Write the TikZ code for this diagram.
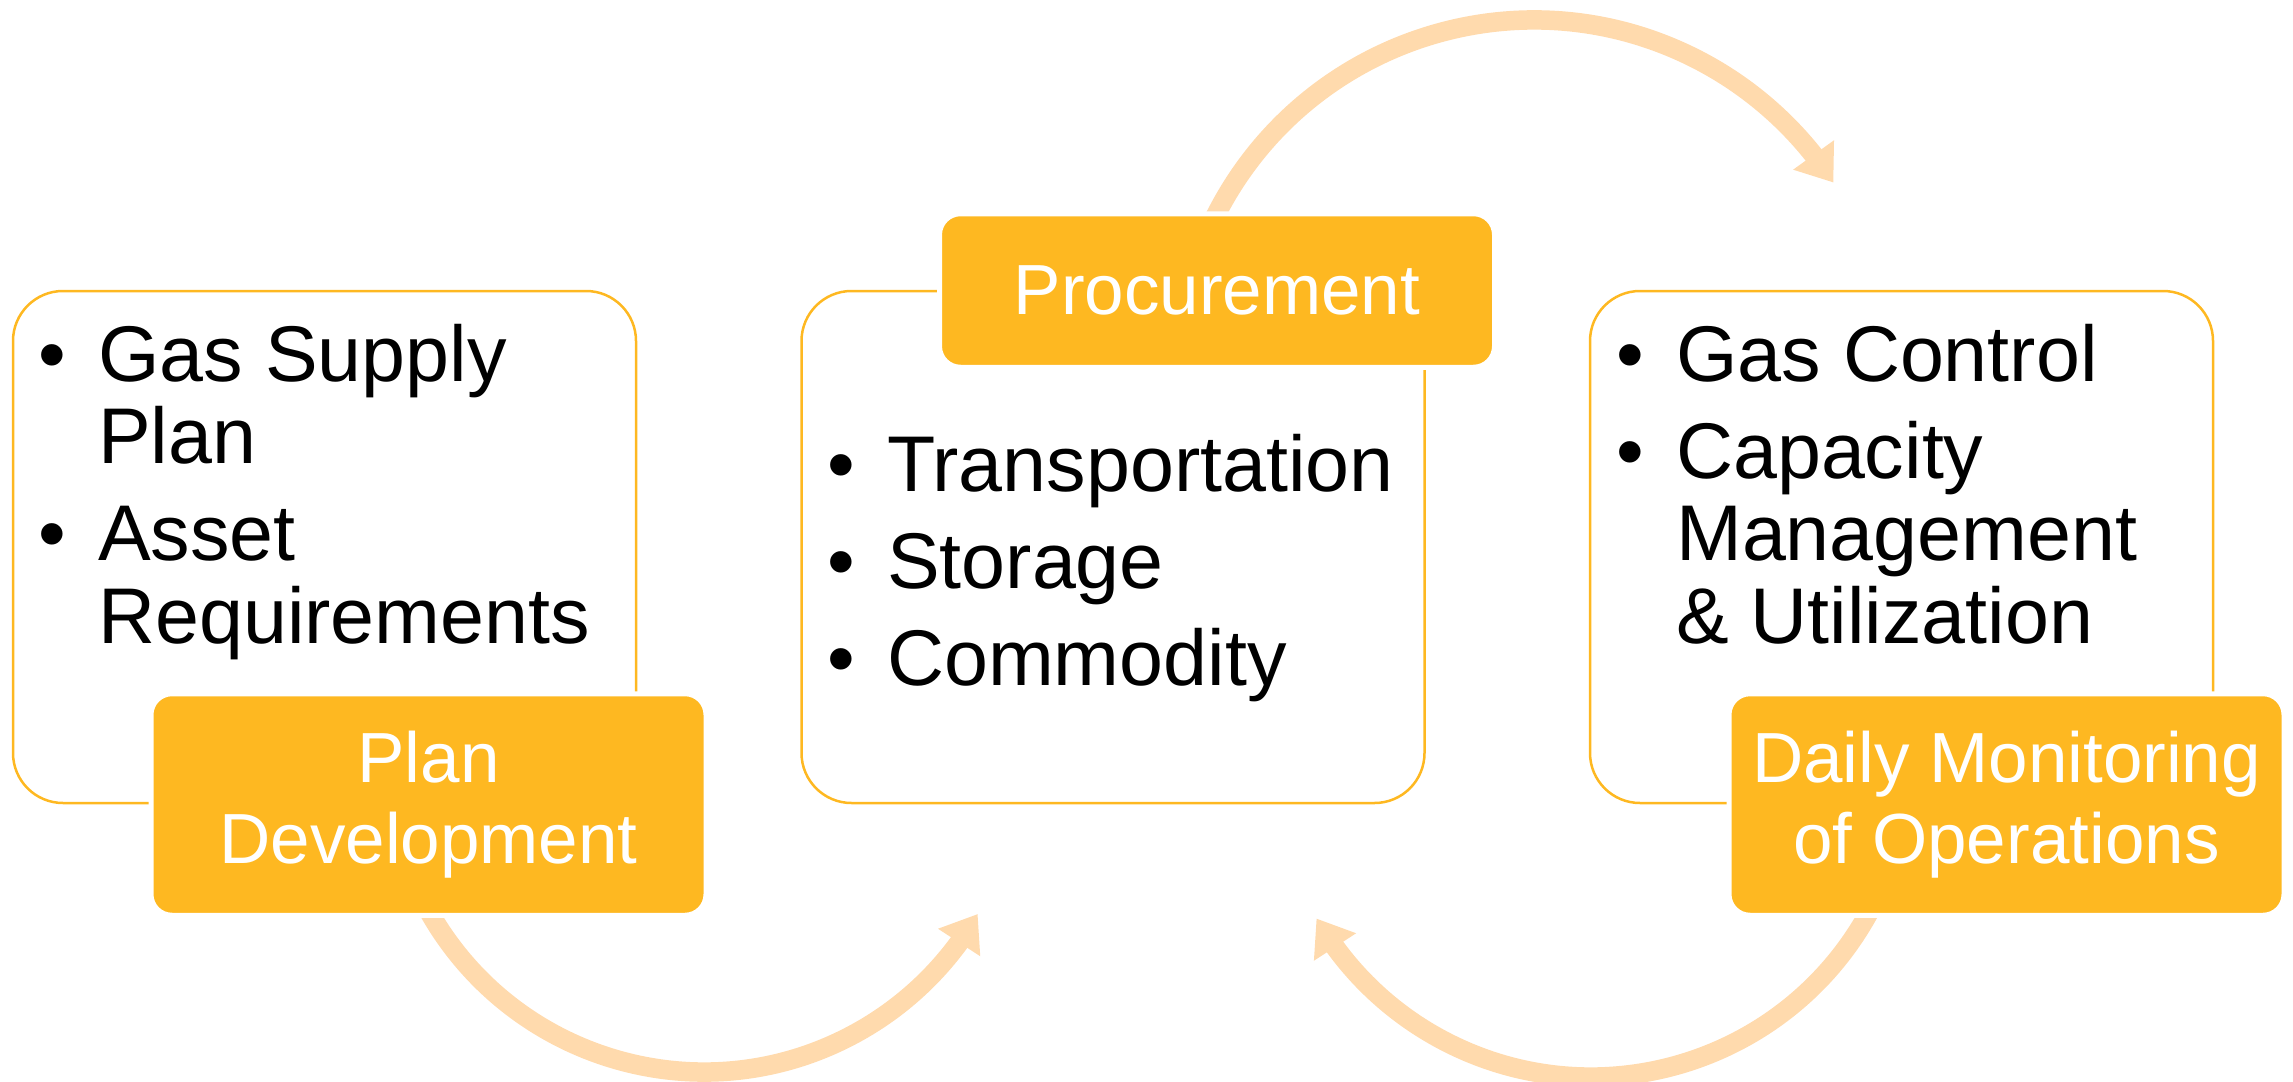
\documentclass[tikz,border=0pt]{standalone}
\usepackage{fontspec}
\setmainfont{Liberation Sans}
\usetikzlibrary{arrows.meta,bending,calc}
\definecolor{boxorange}{HTML}{FEB821}
\definecolor{arcpeach}{HTML}{FFDAAD}
\newcommand\itembullet{\makebox[60pt][l]{\textbullet}}

\begin{document}
\begin{tikzpicture}[x=1pt,y=-1pt,
  panel/.style={draw=boxorange, line width=2.5pt, rounded corners=50pt,
    minimum width=623pt, minimum height=512pt, inner sep=0pt},
  tag/.style={fill=boxorange, draw=white, line width=5pt, rounded corners=21pt,
    minimum width=555pt, inner sep=0pt, text=white, align=center,
    font=\fontsize{71}{81}\selectfont},
  flow/.style={draw=arcpeach, line width=19.5pt,
    -{Triangle[length=34pt,width=48pt]}},
  items/.style={anchor=base west, inner sep=0pt,
    font=\fontsize{79}{82.5}\selectfont}
]
\useasboundingbox (0,0) rectangle (2293,1081);

% centres of the three curved arrows
\coordinate (c1) at (704,756);
\coordinate (c2) at (1534,377);
\coordinate (c3) at (1591,760);

% curved arrows (drawn first, the tags cover their tails)
\draw[flow] ($(c1)+(152:316)$) arc[start angle=152, end angle=30, radius=316];
\draw[flow] ($(c2)+(-154:357)$) arc[start angle=-154, end angle=-33, radius=357];
\draw[flow] ($(c3)+(28:317)$) arc[start angle=28, end angle=150, radius=317];

% content panels
\node[panel] (plan)  at (324.5,547) {};
\node[panel] (proc)  at (1113,547) {};
\node[panel] (daily) at (1901.5,547) {};

% title tags
\node[tag, minimum height=221.5pt] (plantag)  at (428.5,804.5) {Plan\\Development};
\node[tag, minimum height=153.5pt] (proctag)  at (1217,290.5) {Procurement};
\node[tag, minimum height=221.5pt] (dailytag) at (2006.5,804.5) {Daily Monitoring\\of Operations};

% bullet lists
\node[items] (planlist) at (38,381) {\begin{tabular}[t]{@{}l@{}l@{}}
\itembullet & Gas Supply\\
 & Plan\\[14.5pt]
\itembullet & Asset\\
 & Requirements
\end{tabular}};
\node[items] (proclist) at (827,491.5) {\begin{tabular}[t]{@{}l@{}l@{}}
\itembullet & Transportation\\[14.5pt]
\itembullet & Storage\\[14.5pt]
\itembullet & Commodity
\end{tabular}};
\node[items] (dailylist) at (1616,381) {\begin{tabular}[t]{@{}l@{}l@{}}
\itembullet & Gas Control\\[14.5pt]
\itembullet & Capacity\\
 & Management\\
 & \& Utilization
\end{tabular}};
\end{tikzpicture}
\end{document}
